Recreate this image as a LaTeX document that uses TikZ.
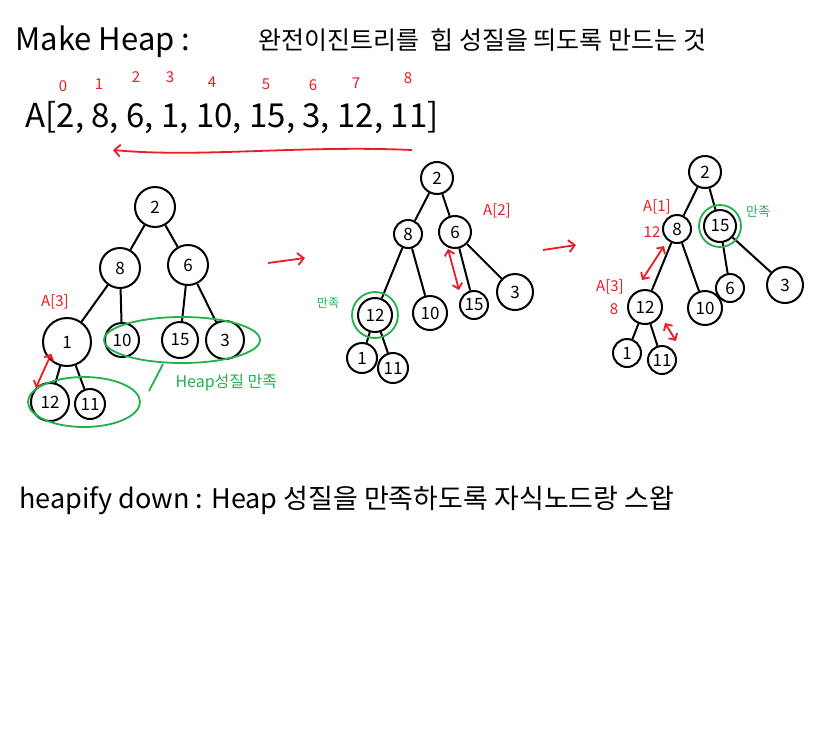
\documentclass[tikz,border=0pt]{standalone}
\usepackage{fontspec}
\setmainfont{Noto Sans CJK KR}
\definecolor{pred}{RGB}{237,28,36}
\definecolor{pgreen}{RGB}{34,177,76}
\tikzset{
  hnode/.style={circle, draw, line width=2pt, inner sep=0pt, minimum size=#1, font=\fontsize{17}{17}\selectfont},
  hnode/.default=32,
  tedge/.style={line width=2pt},
  redarr/.style={pred, line width=1.8pt, -{Straight Barb[length=6pt]}},
  redboth/.style={pred, line width=1.8pt, {Straight Barb[length=5pt]}-{Straight Barb[length=5pt]}},
  redlbl/.style={pred, font=\fontsize{15}{15}\selectfont, inner sep=0pt},
  greenring/.style={pgreen, line width=1.8pt},
}
\usetikzlibrary{arrows.meta}
\begin{document}
\begin{tikzpicture}[x=1pt,y=-1pt]
\fill[white] (0,0) rectangle (828,748);
\useasboundingbox (0,0) rectangle (828,748);
\node[anchor=west, font=\fontsize{31}{31}\selectfont] (title) at (12,42) {Make Heap :};
\node[anchor=west, font=\fontsize{25}{25}\selectfont] (titlekr) at (255,40) {완전이진트리를 \ 힙 성질을 띄도록 만드는 것};
% array and its indices
\node[anchor=west, font=\fontsize{33}{33}\selectfont] (arr) at (22,118) {A[2, 8, 6, 1, 10, 15, 3, 12, 11]};
\foreach \i/\x/\y in {0/63/86, 1/99/84, 2/136/77, 3/170/77, 4/212/82, 5/266/84, 6/313/85, 7/356/83, 8/408/78}
  \node[redlbl] (idx\i) at (\x,\y) {\i};
\coordinate (sweepR) at (412,150);
\coordinate (sweepL) at (113,150);
\draw[redarr] (sweepR) .. controls (300,145) and (200,158) .. (sweepL);
% tree 1
\node[hnode=40] (a2) at (155,207) {2};
\node[hnode=40] (a8) at (120,268) {8};
\node[hnode=40] (a6) at (188,265) {6};
\node[hnode=48] (a1) at (67,342) {1};
\node[hnode=34] (a10) at (122,340) {10};
\node[hnode=36] (a15) at (180,340) {15};
\node[hnode=38] (a3) at (225,340) {3};
\node[hnode=38] (a12) at (50,402) {12};
\node[hnode=30] (a11) at (90,404) {11};
\foreach \p/\c in {a2/a8, a2/a6, a8/a1, a8/a10, a6/a15, a6/a3, a1/a12, a1/a11}
  \draw[tedge] (\p) -- (\c);
\node[redlbl] (aL3) at (55,302) {A[3]};
\draw[redboth] (a1.south west) ++(2,-6) coordinate (aS1) (aS1) -- (a12.north west);
\draw[greenring] (182,340) ellipse [x radius=78, y radius=23];
\draw[greenring] (84,402) ellipse [x radius=56, y radius=25];
\coordinate (gtickA) at (163,364);
\coordinate (gtickB) at (149,391);
\draw[greenring] (gtickA) -- (gtickB);
\node[anchor=west, pgreen, font=\fontsize{16}{16}\selectfont] (aok) at (172,383) {Heap성질 만족};
% step arrows
\coordinate (st1a) at (268,263);
\coordinate (st1b) at (305,258);
\draw[redarr] (st1a) -- (st1b);
\coordinate (st2a) at (543,250);
\coordinate (st2b) at (576,245);
\draw[redarr] (st2a) -- (st2b);
% tree 2
\node[hnode] (b2) at (437,178) {2};
\node[hnode=28] (b8) at (408,234) {8};
\node[hnode] (b6) at (455,232) {6};
\node[hnode=34] (b12) at (375,315) {12};
\node[hnode=34] (b10) at (430,313) {10};
\node[hnode=28] (b15) at (474,305) {15};
\node[hnode=36] (b3) at (515,292) {3};
\node[hnode=30] (b1) at (362,358) {1};
\node[hnode=30] (b11) at (393,368) {11};
\foreach \p/\c in {b2/b8, b2/b6, b8/b12, b8/b10, b6/b15, b6/b3, b12/b1, b12/b11}
  \draw[tedge] (\p) -- (\c);
\draw[greenring] (b12) circle (23);
\node[pgreen, font=\fontsize{12}{12}\selectfont] (bok) at (328,303) {만족};
\node[redlbl] (bL2) at (497,211) {A[2]};
\draw[redboth] ([xshift=-7pt]b6.south) -- ([xshift=-15pt]b15.north);
% tree 3
\node[hnode] (c2) at (705,172) {2};
\node[hnode=28] (c8) at (677,229) {8};
\node[hnode] (c15) at (720,226) {15};
\node[hnode=34] (c12) at (645,307) {12};
\node[hnode=34] (c10) at (705,308) {10};
\node[hnode=28] (c6) at (730,288) {6};
\node[hnode=36] (c3) at (785,285) {3};
\node[hnode=28] (c1) at (627,353) {1};
\node[hnode=28] (c11) at (662,360) {11};
\foreach \p/\c in {c2/c8, c2/c15, c8/c12, c8/c10, c15/c6, c15/c3, c12/c1, c12/c11}
  \draw[tedge] (\p) -- (\c);
\draw[greenring] (c15) circle (21);
\node[pgreen, font=\fontsize{13}{13}\selectfont] (cok) at (758,212) {만족};
\node[redlbl] (cL1) at (657,207) {A[1]};
\node[redlbl] (cv12) at (652,232) {12};
\node[redlbl] (cL3) at (610,287) {A[3]};
\node[redlbl] (cv8) at (614,309) {8};
\coordinate (csw1) at (664,246);
\coordinate (csw2) at (642,280);
\draw[redboth] (csw1) -- (csw2);
\coordinate (csw3) at (665,323);
\coordinate (csw4) at (676,341);
\draw[redboth] (csw3) -- (csw4);
% heapify down
\node[anchor=west, font=\fontsize{27}{27}\selectfont] (hd) at (16,500) {heapify down : Heap 성질을 만족하도록 자식노드랑 스왑};
\end{tikzpicture}
\end{document}
